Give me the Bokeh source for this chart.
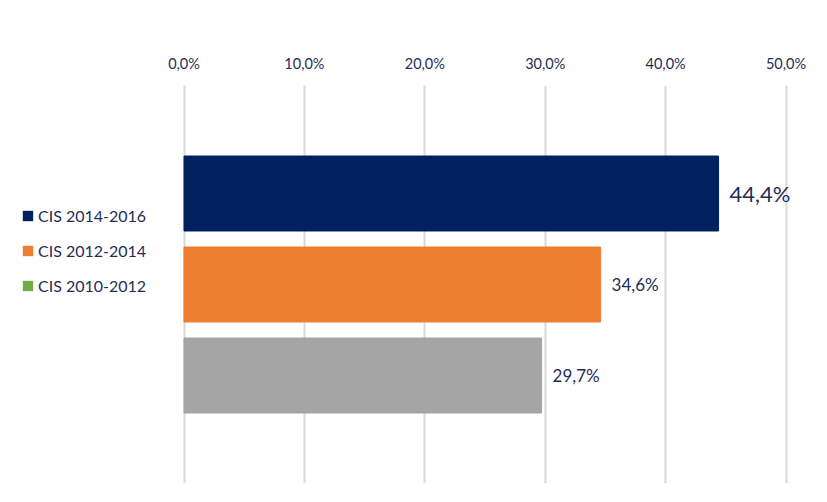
from bokeh.plotting import figure
from bokeh.models import (FactorRange, Range1d, FixedTicker, CustomJSTickFormatter,
                          Legend, LegendItem, ColumnDataSource, LinearAxis)
from bokeh.core.properties import value
from bokeh.embed import file_html
from bokeh.resources import INLINE

# data (bottom to top)
categories = ["CIS 2010-2012", "CIS 2012-2014", "CIS 2014-2016"]
values = [29.7, 34.6, 44.4]
bar_colors = ["#A5A5A5", "#ED7D31", "#002060"]
legend_colors = ["#70AD47", "#ED7D31", "#002060"]
label_sizes = ["17px", "17px", "22px"]
ticks = [0, 10, 20, 30, 40, 50]

FONT = "Lato"
TXT = "#1F2D55"

W, H = 819, 494
X0_PX = 183.5        # pixel position of 0 %
PX_PER_UNIT = 602 / 50

labels = [f"{v:.1f}".replace(".", ",") + "%" for v in values]
src = ColumnDataSource(dict(cat=categories, val=values, color=bar_colors,
                            label=labels, size=label_sizes))

p = figure(width=W, height=H, output_backend="svg", toolbar_location=None,
           y_range=FactorRange(factors=categories, range_padding=0.687,
                               range_padding_units="absolute"),
           x_range=Range1d(-X0_PX / PX_PER_UNIT, (W - X0_PX) / PX_PER_UNIT),
           x_axis_location=None,
           min_border_left=0, min_border_right=0, min_border_top=85,
           min_border_bottom=11)
p.outline_line_color = None
p.yaxis.visible = False
p.ygrid.grid_line_color = None

ax = LinearAxis(ticker=FixedTicker(ticks=ticks),
                formatter=CustomJSTickFormatter(code="return tick.toFixed(1).replace('.', ',') + '%';"))
ax.axis_line_color = None
ax.major_tick_line_color = None
ax.minor_tick_line_color = None
ax.major_tick_out = 0
ax.major_label_standoff = 14
ax.major_label_text_font = FONT
ax.major_label_text_font_size = "14.5px"
ax.major_label_text_color = TXT
p.add_layout(ax, "above")

p.xgrid.ticker = FixedTicker(ticks=ticks)
p.xgrid.grid_line_color = "#D9D9D9"
p.xgrid.grid_line_width = 2

p.hbar(y="cat", right="val", left=0, height=0.824, color="color", source=src)

p.text(x="val", y="cat", text="label", source=src, x_offset=11,
       text_baseline="middle", text_align="left", text_font=value(FONT),
       text_font_size="size", text_color=TXT)

# legend (top to bottom: 2014-2016, 2012-2014, 2010-2012)
items = []
for cat, col in reversed(list(zip(categories, legend_colors))):
    r = p.hbar(y=[cat], right=[0], left=[0], height=0.5, fill_color=col, line_color=None)
    items.append(LegendItem(label=cat, renderers=[r]))
leg = Legend(items=items, location=(21, 188), padding=0, margin=0,
             border_line_color=None, background_fill_alpha=0,
             glyph_width=13, glyph_height=13, label_height=20, spacing=15,
             label_standoff=4, label_text_font=FONT, label_text_font_size="16px",
             label_text_color=TXT)
p.add_layout(leg, "center")

open("out.html", "w").write(file_html(p, INLINE))
